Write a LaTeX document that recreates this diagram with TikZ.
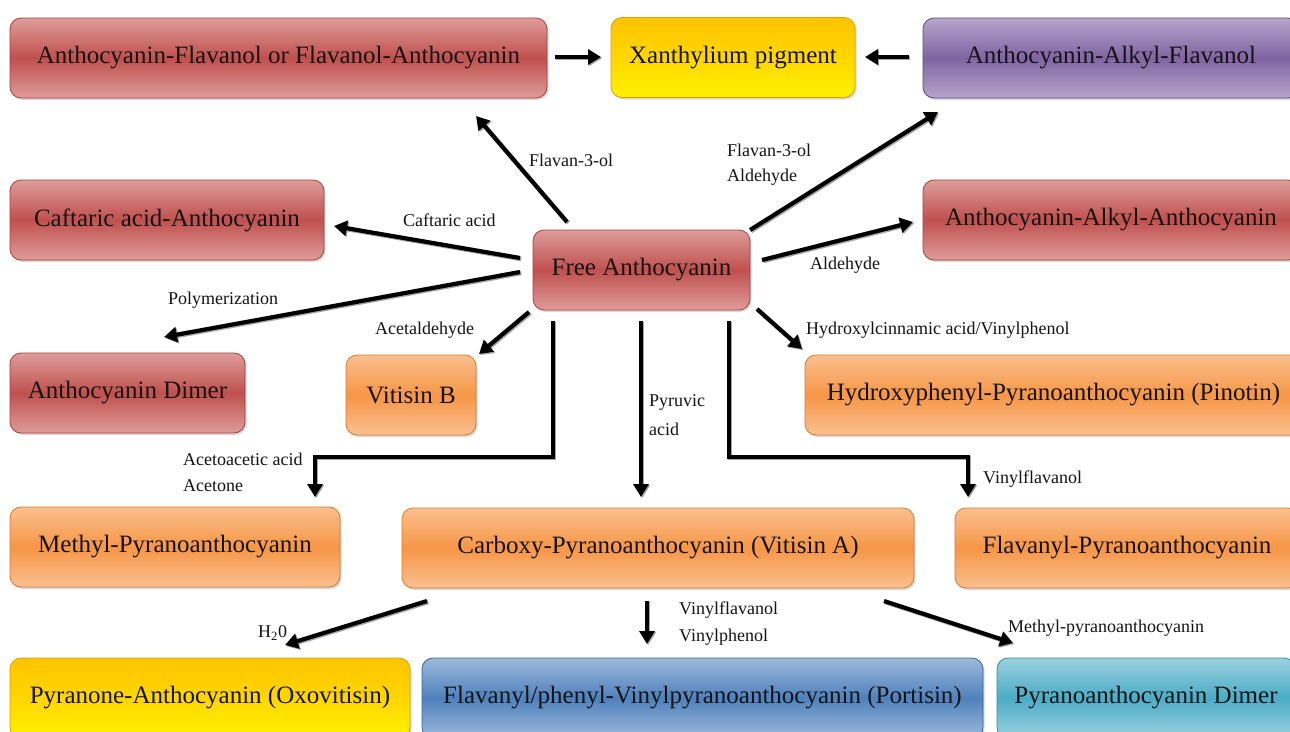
\documentclass[tikz,border=0pt]{standalone}
\usepackage{fontspec}
\setmainfont{Liberation Serif}
\usetikzlibrary{arrows.meta,shadows}
\definecolor{redL}{HTML}{DE9D9B}
\definecolor{redD}{HTML}{C0504D}
\definecolor{redB}{HTML}{A8403D}
\definecolor{yelL}{HTML}{FFC400}
\definecolor{yelD}{HTML}{FFD600}
\definecolor{yelB}{HTML}{E0A000}
\definecolor{yelE}{HTML}{FFF200}
\definecolor{purL}{HTML}{B6A5CB}
\definecolor{purD}{HTML}{8064A2}
\definecolor{purB}{HTML}{5F4A7A}
\definecolor{oraL}{HTML}{FAC090}
\definecolor{oraD}{HTML}{F79646}
\definecolor{oraB}{HTML}{D97A2E}
\definecolor{bluL}{HTML}{9DB9DB}
\definecolor{bluD}{HTML}{4F81BD}
\definecolor{bluB}{HTML}{3C6496}
\definecolor{cyaL}{HTML}{9CD2E0}
\definecolor{cyaD}{HTML}{4BACC6}
\definecolor{cyaB}{HTML}{3A8CA3}
\definecolor{txt}{HTML}{141414}
\begin{document}
\begin{tikzpicture}[x=1pt,y=-1pt,
  boxbase/.style={rounded corners=11pt, line width=0.8pt, minimum height=80pt,
    inner sep=0pt, text=txt, font=\fontsize{25}{30}\selectfont,
    drop shadow={shadow xshift=1.5pt,shadow yshift=-2pt,opacity=0.3}},
  cbox/.style={boxbase, draw=#1B, top color=#1L, bottom color=#1L, middle color=#1D},
  ybox/.style={boxbase, draw=yelB, top color=yelL, bottom color=yelE, middle color=yelD},
  arr/.style={line width=4.2pt, line join=miter, -{Triangle[length=13pt,width=15pt]},
    preaction={draw=black!35, line width=4.2pt, transform canvas={xshift=1.2pt,yshift=-1.2pt}}},
  lbl/.style={font=\fontsize{18}{21}\selectfont, anchor=west, inner sep=0pt, text=txt}
]
\useasboundingbox (0,0) rectangle (1290,731);
\fill[white] (0,0) rectangle (1290,731);
\clip (0,0) rectangle (1290,731);

% boxes
\node[cbox=red, minimum width=537pt] (afa) at (278.5,58) {Anthocyanin-Flavanol or Flavanol-Anthocyanin};
\node[ybox, minimum width=244pt] (xan) at (733,57.5) {Xanthylium pigment};
\node[cbox=pur, minimum width=376pt] (aaf) at (1111,58) {Anthocyanin-Alkyl-Flavanol};
\node[cbox=red, minimum width=314pt] (caf) at (167,220) {Caftaric acid-Anthocyanin};
\node[cbox=red, minimum width=217pt] (fa) at (641.5,270) {Free Anthocyanin};
\node[cbox=red, minimum width=376pt] (aaa) at (1111,220) {Anthocyanin-Alkyl-Anthocyanin};
\node[cbox=red, minimum width=235pt] (dim) at (127.5,393) {Anthocyanin Dimer};
\node[cbox=ora, minimum width=130pt] (vitb) at (411,395) {Vitisin B};
\node[cbox=ora, minimum width=497pt] (pin) at (1053.5,395) {Hydroxyphenyl-Pyranoanthocyanin (Pinotin)};
\node[cbox=ora, minimum width=330pt] (mpa) at (175,547) {Methyl-Pyranoanthocyanin};
\node[cbox=ora, minimum width=512pt] (vita) at (658,548) {Carboxy-Pyranoanthocyanin (Vitisin A)};
\node[cbox=ora, minimum width=344pt] (fpa) at (1127,548) {Flavanyl-Pyranoanthocyanin};
\node[ybox, minimum width=400pt] (oxo) at (210,698) {Pyranone-Anthocyanin (Oxovitisin)};
\node[cbox=blu, minimum width=561pt] (por) at (702.5,698) {Flavanyl/phenyl-Vinylpyranoanthocyanin (Portisin)};
\node[cbox=cya, minimum width=298pt] (pdim) at (1146,698) {Pyranoanthocyanin Dimer};

% arrow end points
\coordinate (s1) at (555,57);   \coordinate (e1) at (601,57);
\coordinate (s2) at (909,57);   \coordinate (e2) at (865,57);
\coordinate (s3) at (567,222);  \coordinate (e3) at (476,116);
\coordinate (s4) at (750,230);  \coordinate (e4) at (938,112);
\coordinate (s5) at (520,258);  \coordinate (e5) at (334,226);
\coordinate (s6) at (762,260);  \coordinate (e6) at (913,222);
\coordinate (s7) at (520,272);  \coordinate (e7) at (164,337);
\coordinate (s8) at (529,312);  \coordinate (e8) at (479,354);
\coordinate (s9) at (757,309);  \coordinate (e9) at (802,349);
\coordinate (s10) at (553,321); \coordinate (e10) at (315,497);
\coordinate (s11) at (641,321); \coordinate (e11) at (641,497);
\coordinate (s12) at (729,321); \coordinate (e12) at (968,497);
\coordinate (s13) at (427,601); \coordinate (e13) at (285,645);
\coordinate (s14) at (647,601); \coordinate (e14) at (647,644);
\coordinate (s15) at (884,601); \coordinate (e15) at (1013,643);

\draw[arr] (s1) -- (e1);
\draw[arr] (s2) -- (e2);
\draw[arr] (s3) -- (e3);
\draw[arr] (s4) -- (e4);
\draw[arr] (s5) -- (e5);
\draw[arr] (s6) -- (e6);
\draw[arr] (s7) -- (e7);
\draw[arr] (s8) -- (e8);
\draw[arr] (s9) -- (e9);
\draw[arr] (s10) -- (553,457) -- (315,457) -- (e10);
\draw[arr] (s11) -- (e11);
\draw[arr] (s12) -- (729,457) -- (968,457) -- (e12);
\draw[arr] (s13) -- (e13);
\draw[arr] (s14) -- (e14);
\draw[arr] (s15) -- (e15);

% labels
\node[lbl] (l3) at (529,160) {Flavan-3-ol};
\node[lbl] (l4a) at (727,150) {Flavan-3-ol};
\node[lbl] (l4b) at (727,177) {Aldehyde};
\node[lbl] (l5) at (403,220) {Caftaric acid};
\node[lbl] (l6) at (810,265) {Aldehyde};
\node[lbl] (l7) at (168,300) {Polymerization};
\node[lbl] (l8) at (375,330) {Acetaldehyde};
\node[lbl] (l9) at (806,330) {Hydroxylcinnamic acid/Vinylphenol};
\node[lbl] (l10a) at (183,459) {Acetoacetic acid};
\node[lbl] (l10b) at (183,486) {Acetone};
\node[lbl] (l11a) at (649,402) {Pyruvic};
\node[lbl] (l11b) at (649,429) {acid};
\node[lbl] (l12) at (983,479) {Vinylflavanol};
\node[lbl] (l13) at (258,633) {H\textsubscript{2}0};
\node[lbl] (l14a) at (679,610) {Vinylflavanol};
\node[lbl] (l14b) at (679,637) {Vinylphenol};
\node[lbl] (l15) at (1008,628) {Methyl-pyranoanthocyanin};
\end{tikzpicture}
\end{document}
